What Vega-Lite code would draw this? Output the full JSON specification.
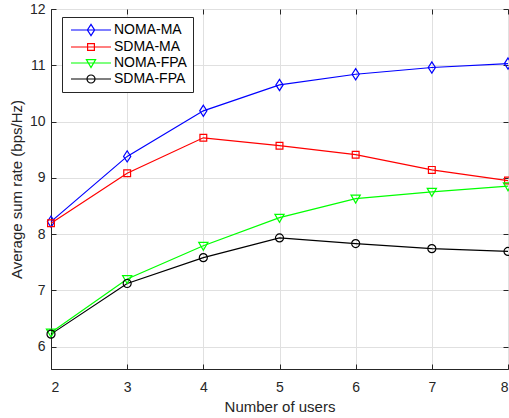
{
  "$schema": "https://vega.github.io/schema/vega-lite/v6.json",
  "width": 457,
  "height": 360,
  "autosize": {"type": "none"},
  "padding": {"left": 51, "top": 9, "right": 1, "bottom": 49},
  "background": "white",
  "config": {
    "font": "Liberation Sans",
    "view": {"stroke": "#262626", "strokeWidth": 1},
    "axis": {
      "labelFont": "Liberation Sans",
      "titleFont": "Liberation Sans",
      "labelFontSize": 14,
      "labelColor": "#262626",
      "titleColor": "#262626",
      "titleFontSize": 15,
      "titleFontWeight": "normal",
      "domainColor": "#262626",
      "tickColor": "#262626",
      "gridColor": "#e0e0e0",
      "gridWidth": 1
    }
  },
  "data": {
    "values": [
      {"n": 2, "s": "NOMA-MA", "v": 8.22},
      {"n": 3, "s": "NOMA-MA", "v": 9.38},
      {"n": 4, "s": "NOMA-MA", "v": 10.19},
      {"n": 5, "s": "NOMA-MA", "v": 10.65},
      {"n": 6, "s": "NOMA-MA", "v": 10.84},
      {"n": 7, "s": "NOMA-MA", "v": 10.96},
      {"n": 8, "s": "NOMA-MA", "v": 11.03},
      {"n": 2, "s": "SDMA-MA", "v": 8.19},
      {"n": 3, "s": "SDMA-MA", "v": 9.08},
      {"n": 4, "s": "SDMA-MA", "v": 9.71},
      {"n": 5, "s": "SDMA-MA", "v": 9.57},
      {"n": 6, "s": "SDMA-MA", "v": 9.41},
      {"n": 7, "s": "SDMA-MA", "v": 9.14},
      {"n": 8, "s": "SDMA-MA", "v": 8.95},
      {"n": 2, "s": "NOMA-FPA", "v": 6.25},
      {"n": 3, "s": "NOMA-FPA", "v": 7.2},
      {"n": 4, "s": "NOMA-FPA", "v": 7.79},
      {"n": 5, "s": "NOMA-FPA", "v": 8.29},
      {"n": 6, "s": "NOMA-FPA", "v": 8.63},
      {"n": 7, "s": "NOMA-FPA", "v": 8.75},
      {"n": 8, "s": "NOMA-FPA", "v": 8.85},
      {"n": 2, "s": "SDMA-FPA", "v": 6.22},
      {"n": 3, "s": "SDMA-FPA", "v": 7.12},
      {"n": 4, "s": "SDMA-FPA", "v": 7.58},
      {"n": 5, "s": "SDMA-FPA", "v": 7.93},
      {"n": 6, "s": "SDMA-FPA", "v": 7.83},
      {"n": 7, "s": "SDMA-FPA", "v": 7.74},
      {"n": 8, "s": "SDMA-FPA", "v": 7.69}
    ]
  },
  "layer": [
    {
      "mark": {"type": "line", "strokeWidth": 1.2, "clip": false},
      "encoding": {
        "x": {"field": "n", "type": "quantitative", "scale": {"domain": [2, 8], "nice": false},
              "axis": {"values": [2, 3, 4, 5, 6, 7, 8], "format": "d", "title": "Number of users", "tickSize": -5, "labelPadding": 16, "titlePadding": 5, "grid": true}},
        "y": {"field": "v", "type": "quantitative", "scale": {"domain": [5.6, 12], "nice": false, "zero": false},
              "axis": {"values": [6, 7, 8, 9, 10, 11, 12], "format": "d", "title": "Average sum rate (bps/Hz)", "tickSize": -5, "labelPadding": 11, "titlePadding": 5, "grid": true}},
        "color": {"field": "s", "type": "nominal", "sort": ["NOMA-MA", "SDMA-MA", "NOMA-FPA", "SDMA-FPA"],
                  "scale": {"domain": ["NOMA-MA", "SDMA-MA", "NOMA-FPA", "SDMA-FPA"], "range": ["#0000ff", "#ff0000", "#00ff00", "#000000"]}, "legend": null}
      }
    },
    {
      "mark": {"type": "point", "filled": false, "strokeWidth": 1.2, "size": 64, "opacity": 1, "clip": false},
      "encoding": {
        "x": {"field": "n", "type": "quantitative", "axis": {"orient": "top", "values": [2, 3, 4, 5, 6, 7, 8], "labels": false, "title": null, "tickSize": -5, "grid": false, "domain": false}},
        "y": {"field": "v", "type": "quantitative", "axis": {"orient": "right", "values": [6, 7, 8, 9, 10, 11, 12], "labels": false, "title": null, "tickSize": -5, "grid": false, "domain": false}},
        "color": {"field": "s", "type": "nominal",
                  "scale": {"domain": ["NOMA-MA", "SDMA-MA", "NOMA-FPA", "SDMA-FPA"], "range": ["#0000ff", "#ff0000", "#00ff00", "#000000"]}, "legend": null},
        "shape": {"field": "s", "type": "nominal",
                  "scale": {"domain": ["NOMA-MA", "SDMA-MA", "NOMA-FPA", "SDMA-FPA"],
                            "range": ["M0,-1.4L0.9,0L0,1.4L-0.9,0Z", "M-0.85,-0.85H0.85V0.85H-0.85Z", "M-1.15,-0.85H1.15L0,1.15Z", "M-1,0A1,1 0 1,0 1,0A1,1 0 1,0 -1,0Z"]},
                  "legend": null}
      }
    },
    {
      "mark": {"type": "point", "filled": false, "strokeWidth": 1.2, "size": 64, "opacity": 0},
      "encoding": {
        "x": {"field": "n", "type": "quantitative", "axis": null},
        "y": {"field": "v", "type": "quantitative", "axis": null},
        "color": {"field": "s", "type": "nominal",
                  "scale": {"domain": ["NOMA-MA", "SDMA-MA", "NOMA-FPA", "SDMA-FPA"], "range": ["#0000ff", "#ff0000", "#00ff00", "#000000"]},
                  "legend": {"title": null, "orient": "none", "legendX": 11, "legendY": 8, "fillColor": "white", "strokeColor": "#262626", "padding": 6,
                             "labelFontSize": 14, "labelColor": "#000000", "labelFont": "Liberation Sans", "symbolSize": 64, "symbolStrokeWidth": 1.2,
                             "symbolOffset": 16, "labelOffset": 16, "rowPadding": 2, "labelExpr": "datum.label + '  '",
                             "encode": {"symbols": {"update": {"opacity": {"value": 1}, "strokeOpacity": {"value": 1}}}}}},
        "shape": {"field": "s", "type": "nominal",
                  "scale": {"domain": ["NOMA-MA", "SDMA-MA", "NOMA-FPA", "SDMA-FPA"],
                            "range": ["M-5,0H5M0,-1.4L0.9,0L0,1.4L-0.9,0Z", "M-5,0H5M-0.85,-0.85H0.85V0.85H-0.85Z", "M-5,0H5M-1.15,-0.85H1.15L0,1.15Z", "M-5,0H5M-1,0A1,1 0 1,0 1,0A1,1 0 1,0 -1,0Z"]},
                  "legend": {"title": null, "orient": "none", "legendX": 11, "legendY": 8, "fillColor": "white", "strokeColor": "#262626", "padding": 6,
                             "labelFontSize": 14, "labelColor": "#000000", "labelFont": "Liberation Sans", "symbolSize": 64, "symbolStrokeWidth": 1.2,
                             "symbolOffset": 16, "labelOffset": 16, "rowPadding": 2, "labelExpr": "datum.label + '  '",
                             "encode": {"symbols": {"update": {"opacity": {"value": 1}, "strokeOpacity": {"value": 1}}}}}}
      }
    }
  ],
  "resolve": {"scale": {"color": "independent", "shape": "independent"}, "axis": {"x": "independent", "y": "independent"}}
}
